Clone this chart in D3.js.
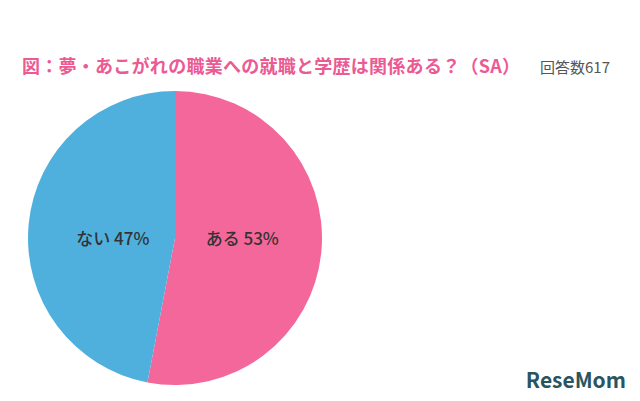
<!DOCTYPE html>
<html>
<head>
<meta charset="utf-8">
<script src="https://cdn.jsdelivr.net/npm/d3@7"></script>
<style>
body { margin: 0; background: #fff; }
text { font-family: "Noto Sans CJK JP", "Noto Sans", sans-serif; }
</style>
</head>
<body>
<svg id="chart" width="640" height="401"></svg>
<script>
const labels = ["ある", "ない"];
const values = [53, 47];
const colors = ["#F4679A", "#4FB0DE"];

const svg = d3.select("#chart");

// title
svg.append("text").attr("x", 22).attr("y", 73)
  .attr("fill", "#EC5A93").attr("font-size", 18).attr("font-weight", "bold")
  .attr("textLength", 498).attr("lengthAdjust", "spacing")
  .text("図：夢・あこがれの職業への就職と学歴は関係ある？（SA）");
svg.append("text").attr("x", 540).attr("y", 73)
  .attr("fill", "#555").attr("font-size", 15)
  .text("回答数617");

const cx = 175, cy = 238, r = 147;
const pie = d3.pie().sort(null)(values);
const arc = d3.arc().innerRadius(0).outerRadius(r);
const g = svg.append("g").attr("transform", `translate(${cx},${cy})`);

g.selectAll("path").data(pie).enter().append("path")
  .attr("d", arc).attr("fill", (d, i) => colors[i]);

const labelArc = d3.arc().innerRadius(r * 0.48).outerRadius(r * 0.48);
g.selectAll("text").data(pie).enter().append("text")
  .attr("transform", d => { const c = labelArc.centroid(d); return `translate(${c[0]},7)`; })
  .attr("x", (d, i) => i === 0 ? -3 : 8)
  .attr("text-anchor", "middle")
  .attr("fill", "#333").attr("font-size", 17).attr("font-weight", 500)
  .text((d, i) => labels[i] + " " + values[i] + "%");

// watermark logo
svg.append("text").attr("x", 626).attr("y", 388).attr("text-anchor", "end")
  .attr("fill", "#2a5560").attr("font-size", 21).attr("font-weight", "bold")
  .attr("font-family", "Roboto, sans-serif")
  .text("ReseMom");
</script>
</body>
</html>
